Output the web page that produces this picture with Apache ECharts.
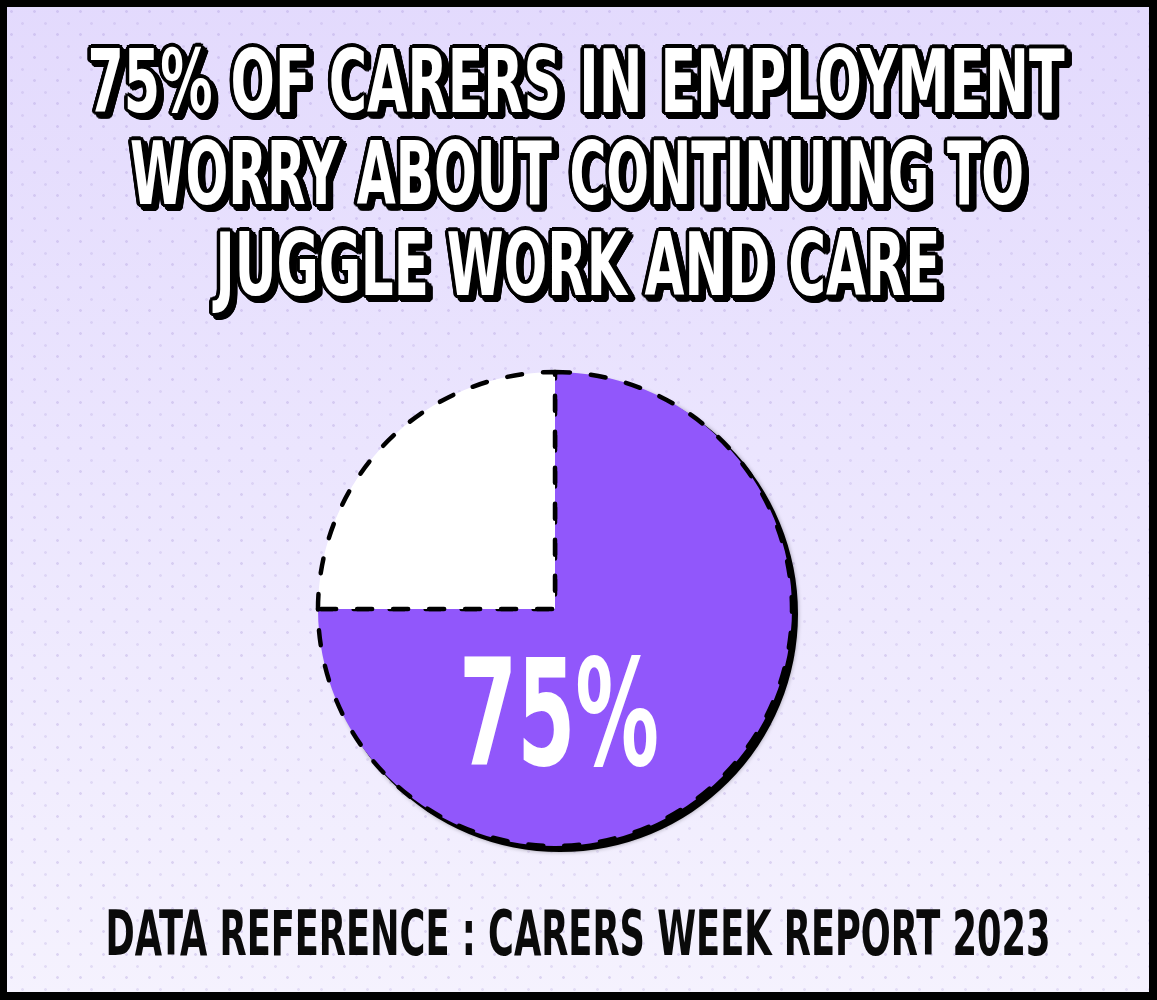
<!DOCTYPE html>
<html>
<head>
<meta charset="utf-8">
<script src="https://cdn.jsdelivr.net/npm/echarts@6/dist/echarts.min.js"></script>
<style>
html,body{margin:0;padding:0;background:#000;}
#wrap{position:relative;width:1157px;height:1000px;overflow:hidden;
  background:
    radial-gradient(circle, rgba(165,145,215,0.30) 1px, transparent 1.7px) 0 0/23px 23px,
    radial-gradient(circle, rgba(165,145,215,0.22) 1px, transparent 1.7px) 11px 12px/23px 23px,
    linear-gradient(180deg,#e3dafd 0%,#ebe5fe 45%,#f5f2fe 100%);}
#chart{position:absolute;left:0;top:0;width:1157px;height:1000px;}
#frame{position:absolute;left:0;top:0;width:1157px;height:1000px;box-sizing:border-box;
  border-style:solid;border-color:#000;border-width:7px 8px 8px 7px;pointer-events:none;}
</style>
</head>
<body>
<div id="wrap"><div id="chart"></div><div id="frame"></div></div>
<script>
// ---- data ----
const categories = ['Worry about continuing to juggle work and care', 'Other carers in employment'];
const shares = [75, 25];
const sliceColors = ['#9157fb', '#ffffff'];
const titleLines = ['75% OF CARERS IN EMPLOYMENT', 'WORRY ABOUT CONTINUING TO', 'JUGGLE WORK AND CARE'];
const footerText = 'DATA REFERENCE : CARERS WEEK REPORT 2023';

// ---- layout helpers ----
const FONT = "'Liberation Sans Narrow','DejaVu Sans Condensed','Noto Sans',sans-serif";
const mctx = document.createElement('canvas').getContext('2d');
function fitScale(text, size, target) {
  mctx.font = 'bold ' + size + 'px ' + FONT;
  return target / mctx.measureText(text).width;
}
function textEl(text, x, y, size, sx, fill, z) {
  return {
    type: 'text', x: x, y: y, scaleX: sx, z: z, silent: true,
    style: {
      text: text, font: 'bold ' + size + 'px ' + FONT, fill: fill,
      textAlign: 'center', textVerticalAlign: 'middle', align: 'center', verticalAlign: 'middle'
    }
  };
}
function outlined(text, x, y, size, targetW) {
  const sx = fitScale(text, size, targetW);
  const els = [];
  const r = 3.5, n = 16;
  for (let k = 0; k < n; k++) {
    const a = 2 * Math.PI * k / n;
    const dx = r * Math.cos(a), dy = r * Math.sin(a);
    els.push(textEl(text, x + dx + 4, y + dy + 4, size, sx, '#000', 10));
    els.push(textEl(text, x + dx, y + dy, size, sx, '#000', 11));
  }
  els.push(textEl(text, x, y, size, sx, '#fff', 12));
  return els;
}

const titleCenters = [[576, 89], [577, 181], [578, 272]];
const titleWidths = [977, 894, 725];
let graphics = [];
titleLines.forEach((t, i) => {
  graphics = graphics.concat(outlined(t, titleCenters[i][0], titleCenters[i][1], 88, titleWidths[i]));
});
graphics.push(textEl(footerText, 578, 939, 62, fitScale(footerText, 62, 945), '#0a0a0a', 12));
const bigLabel = shares[0] + '%';
graphics.push(textEl(bigLabel, 559, 727, 148, fitScale(bigLabel, 148, 200), '#ffffff', 20));

const chart = echarts.init(document.getElementById('chart'), null, { renderer: 'canvas' });
chart.setOption({
  backgroundColor: 'transparent',
  animation: false,
  series: [
    {
      type: 'pie', name: 'shadow', silent: true, z: 1,
      center: [560, 614], radius: 238, startAngle: 90, clockwise: true,
      avoidLabelOverlap: false,
      label: { show: false }, labelLine: { show: false },
      emphasis: { disabled: true },
      itemStyle: { color: '#000', borderWidth: 0, shadowBlur: 4, shadowColor: 'rgba(0,0,0,0.35)' },
      data: shares.map(v => ({ value: v }))
    },
    {
      type: 'pie', name: 'Carers', z: 2,
      center: [555, 609], radius: 237, startAngle: 90, clockwise: true,
      avoidLabelOverlap: false,
      label: { show: false }, labelLine: { show: false },
      emphasis: { disabled: true },
      itemStyle: {
        borderColor: '#000', borderWidth: 4.5, borderType: [15, 21],
        borderCap: 'round', borderJoin: 'round'
      },
      data: categories.map((c, i) => ({ name: c, value: shares[i], itemStyle: { color: sliceColors[i] } }))
    }
  ],
  graphic: { elements: graphics }
});
</script>
</body>
</html>
